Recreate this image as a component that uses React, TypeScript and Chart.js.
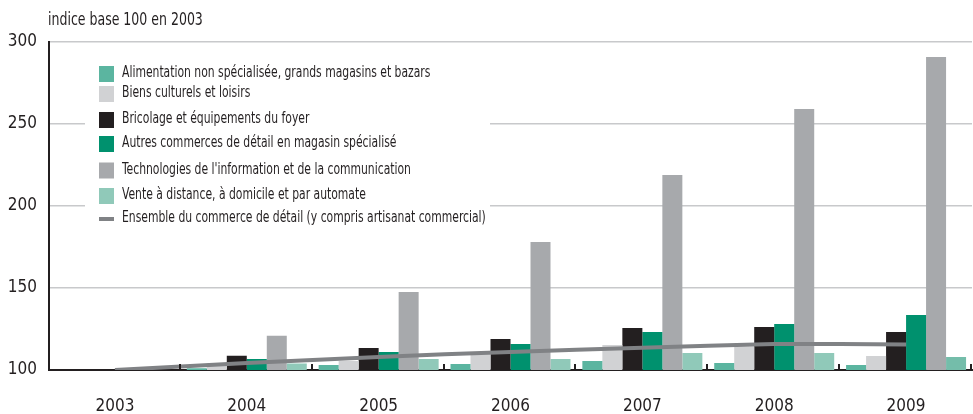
import React, { useEffect, useRef } from "react";
import { Chart, registerables } from "chart.js";

Chart.register(...registerables);

const years = ["2003", "2004", "2005", "2006", "2007", "2008", "2009"];
const yTicks = [100, 150, 200, 250, 300];

const aliment = [100, 101, 103, 103.7, 105.5, 104.3, 103];
const biens = [100, 104, 105.5, 110.4, 115.2, 114.2, 108.5];
const bricolage = [100, 108.7, 113.4, 118.9, 125.6, 126.2, 123.2];
const autres = [100, 106.7, 111, 115.8, 123.2, 128, 133.5];
const tech = [100, 120.9, 147.6, 178, 218.9, 259.1, 290.9];
const vente = [100, 104, 106.7, 106.7, 110.4, 110.4, 108];
const ensemble = [100, 104.2, 108, 111, 113.6, 115.8, 115.6];

const labels = [
  "Alimentation non spécialisée, grands magasins et bazars",
  "Biens culturels et loisirs",
  "Bricolage et équipements du foyer",
  "Autres commerces de détail en magasin spécialisé",
  "Technologies de l'information et de la communication",
  "Vente à distance, à domicile et par automate",
  "Ensemble du commerce de détail (y compris artisanat commercial)",
];
const colors = ["#5bb5a0", "#d1d2d4", "#231f20", "#00916e", "#a7a9ac", "#90c9b9", "#808285"];
const venteColors = ["#90c9b9", "#90c9b9", "#90c9b9", "#90c9b9", "#90c9b9", "#90c9b9", "#74bdaa"];

const FONT = "'Liberation Sans Narrow', 'DejaVu Sans Condensed', 'Liberation Sans', sans-serif";
const TEXT = "#231f20";

const titlePlugin = {
  id: "topTitle",
  afterDraw(chart: any) {
    const { ctx, chartArea } = chart;
    ctx.save();
    ctx.font = `17px ${FONT}`;
    ctx.fillStyle = TEXT;
    ctx.textBaseline = "alphabetic";
    ctx.textAlign = "left";
    ctx.translate(chartArea.left - 1, 25);
    ctx.scale(0.82, 1);
    ctx.fillText("indice base 100 en 2003", 0, 0);
    ctx.restore();
  },
};

const legendPlugin = {
  id: "insideLegend",
  beforeDatasetsDraw(chart: any) {
    const { ctx, chartArea } = chart;
    const L = chartArea.left;
    const T = chartArea.top;
    ctx.save();
    ctx.fillStyle = "#ffffff";
    ctx.fillRect(L + 36, T + 12, 405, 175);
    const rows = [73, 93, 119, 143, 169.5, 195, 218];
    ctx.font = `16px ${FONT}`;
    ctx.textBaseline = "middle";
    ctx.textAlign = "left";
    rows.forEach((cy, i) => {
      const y = cy - 41 + T;
      ctx.fillStyle = colors[i];
      if (i < 6) {
        ctx.fillRect(L + 50, y - 8, 15, 16);
      } else {
        ctx.fillRect(L + 50, y - 2, 15, 4);
      }
      ctx.save();
      ctx.fillStyle = TEXT;
      ctx.translate(L + 73, y - 1);
      ctx.scale(0.75, 1);
      ctx.fillText(labels[i], 0, 0);
      ctx.restore();
    });
    ctx.restore();
  },
};

const xTickPlugin = {
  id: "xTickMarks",
  afterDatasetsDraw(chart: any) {
    const { ctx, chartArea } = chart;
    const x = chart.scales.x;
    const half = (x.getPixelForValue(1) - x.getPixelForValue(0)) / 2;
    ctx.save();
    ctx.strokeStyle = TEXT;
    ctx.lineWidth = 2;
    for (let i = 0; i < years.length; i++) {
      const px = Math.round(x.getPixelForValue(i) + half) - 1;
      ctx.beginPath();
      ctx.moveTo(px, chartArea.bottom - 6);
      ctx.lineTo(px, chartArea.bottom);
      ctx.stroke();
    }
    ctx.restore();
  },
};

export default function App() {
  const ref = useRef<HTMLCanvasElement | null>(null);

  useEffect(() => {
    document.body.style.margin = "0";
    if (!ref.current) return;
    const barDs = (label: string, data: number[], color: any) => ({
      type: "bar" as const,
      label,
      data,
      backgroundColor: color,
      borderWidth: 0,
      barPercentage: 1,
      categoryPercentage: 0.91,
      order: 2,
    });
    const chart = new Chart(ref.current, {
      type: "bar",
      data: {
        labels: years,
        datasets: [
          {
            type: "line" as const,
            label: labels[6],
            data: ensemble,
            borderColor: colors[6],
            borderWidth: 4,
            pointRadius: 0,
            tension: 0.2,
            fill: false,
            order: 1,
          } as any,
          barDs(labels[0], aliment, colors[0]),
          barDs(labels[1], biens, colors[1]),
          barDs(labels[2], bricolage, colors[2]),
          barDs(labels[3], autres, colors[3]),
          barDs(labels[4], tech, colors[4]),
          barDs(labels[5], vente, venteColors),
        ],
      },
      options: {
        animation: false,
        responsive: true,
        maintainAspectRatio: false,
        layout: { padding: { top: 42, right: 1, left: 0, bottom: 0 } },
        plugins: { legend: { display: false }, tooltip: { enabled: false }, title: { display: false } },
        scales: {
          x: {
            grid: { display: false, drawTicks: false },
            border: { display: true, color: TEXT, width: 2 },
            ticks: { color: TEXT, font: { family: FONT, size: 17 }, padding: 26 },
            afterFit: (s: any) => {
              s.height = 44;
            },
          },
          y: {
            min: 100,
            max: 300,
            afterBuildTicks: (s: any) => {
              s.ticks = yTicks.map((v) => ({ value: v }));
            },
            grid: { color: "#c8c9cb", lineWidth: 1.5, drawTicks: false },
            border: { display: true, color: TEXT, width: 2 },
            ticks: { color: TEXT, font: { family: FONT, size: 17 }, padding: 12 },
            afterFit: (s: any) => {
              s.width = 49;
            },
          },
        },
      },
      plugins: [titlePlugin, legendPlugin, xTickPlugin],
    });
    return () => chart.destroy();
  }, []);

  return (
    <div style={{ width: 973, height: 414, position: "relative" }}>
      <canvas ref={ref} />
    </div>
  );
}
